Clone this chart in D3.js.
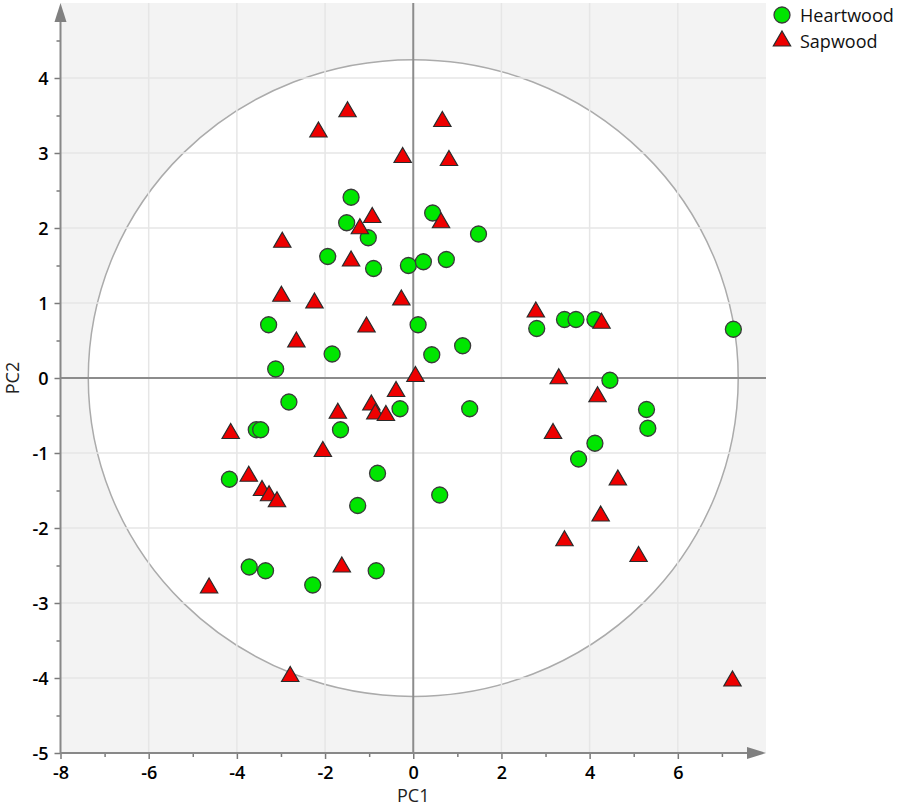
<!DOCTYPE html>
<html>
<head>
<meta charset="utf-8">
<script src="https://cdn.jsdelivr.net/npm/d3@7"></script>
<style>
  body { margin: 0; background: #fff; }
  svg { font-family: "Open Sans", "DejaVu Sans", sans-serif; }
</style>
</head>
<body>
<svg id="chart" width="898" height="808"></svg>
<script>
// PC scores
let heartwood = [
  [-1.41, 2.41], [-1.51, 2.07], [-1.02, 1.87], [0.44, 2.20], [1.48, 1.92],
  [-1.94, 1.62], [-0.90, 1.46], [-0.11, 1.50], [0.23, 1.55], [0.75, 1.58],
  [-3.28, 0.71], [0.11, 0.71], [-1.84, 0.32], [0.42, 0.31], [1.12, 0.43],
  [-3.12, 0.12], [-2.82, -0.32], [-0.30, -0.41], [1.28, -0.41], [-3.56, -0.69],
  [-3.46, -0.69], [-1.65, -0.69], [-0.81, -1.27], [-4.17, -1.35], [-1.26, -1.70],
  [0.60, -1.56], [-3.72, -2.52], [-3.35, -2.57], [-2.28, -2.76], [-0.84, -2.57],
  [2.80, 0.66], [3.43, 0.78], [3.69, 0.78], [4.12, 0.78], [7.26, 0.65],
  [4.46, -0.03], [5.29, -0.42], [5.32, -0.67], [4.12, -0.87], [3.75, -1.08]
]

let sapwood = [
  [-1.49, 3.55], [-2.15, 3.28], [0.66, 3.42], [-0.24, 2.94], [0.81, 2.90],
  [-0.93, 2.14], [-1.21, 1.99], [0.63, 2.07], [-2.97, 1.81], [-1.41, 1.56],
  [-2.99, 1.09], [-2.24, 1.00], [-0.27, 1.04], [-1.06, 0.68], [-2.65, 0.48],
  [0.05, 0.02], [-0.39, -0.18], [-0.95, -0.36], [-0.86, -0.48], [-0.62, -0.50],
  [-1.71, -0.47], [-4.14, -0.74], [-2.05, -0.98], [-3.73, -1.31], [-3.43, -1.50],
  [-3.27, -1.57], [-3.09, -1.65], [-1.62, -2.52], [-4.63, -2.80], [-2.79, -3.98],
  [2.78, 0.88], [4.27, 0.73], [3.30, -0.01], [4.18, -0.25], [3.17, -0.74],
  [4.64, -1.36], [4.25, -1.84], [3.43, -2.17], [5.11, -2.38], [7.24, -4.04]
]

let xTicks = [-8, -6, -4, -2, 0, 2, 4, 6]
let yTicks = [-5, -4, -3, -2, -1, 0, 1, 2, 3, 4]
let ellipseRadius = [7.37, 4.245]
let legendLabels = ["Heartwood", "Sapwood"]

let svg = d3.select('#chart')

let x = d3.scaleLinear().domain([-8, 8]).range([60.5, 766])
let y = d3.scaleLinear().domain([-5, 5]).range([753, 3])

let fmt = d => String(d)   // plain hyphen, not unicode minus

// grey plot background
svg.append('rect')
    .attr('x', x(-8)).attr('y', y(5))
    .attr('width', x(8) - x(-8)).attr('height', y(-5) - y(5))
    .attr('fill', '#f3f3f3')

// Hotelling ellipse
svg.append('ellipse')
    .attr('cx', x(0)).attr('cy', y(0))
    .attr('rx', x(ellipseRadius[0]) - x(0))
    .attr('ry', y(0) - y(ellipseRadius[1]))
    .attr('fill', '#fff')
    .attr('stroke', '#ababab')
    .attr('stroke-width', 1.5)

// grid
let grid = svg.append('g')
grid.selectAll('.gx')
    .data(xTicks.filter(d => d != 0 && d != -8))
    .join('line')
        .attr('x1', d => x(d)).attr('x2', d => x(d))
        .attr('y1', y(5)).attr('y2', y(-5))
grid.selectAll('.gy')
    .data(yTicks.filter(d => d != 0 && d != -5))
    .join('line')
        .attr('y1', d => y(d)).attr('y2', d => y(d))
        .attr('x1', x(-8)).attr('x2', x(8))
grid.selectAll('line')
    .attr('stroke', '#e6e6e6')
    .attr('stroke-width', 1.5)

// zero lines
svg.append('line')
    .attr('x1', x(-8)).attr('x2', x(8))
    .attr('y1', y(0)).attr('y2', y(0))
    .attr('stroke', '#8c8c8c').attr('stroke-width', 2)
svg.append('line')
    .attr('x1', x(0)).attr('x2', x(0))
    .attr('y1', y(5)).attr('y2', y(-5))
    .attr('stroke', '#8c8c8c').attr('stroke-width', 2)

// axes
let xAxis = svg.append('g')
    .attr('transform', `translate(0,${y(-5)})`)
    .call(d3.axisBottom(x).tickValues(xTicks).tickSize(6).tickPadding(4).tickFormat(fmt))
let xMinor = svg.append('g')
    .attr('transform', `translate(0,${y(-5)})`)
    .call(d3.axisBottom(x).tickValues([-7, -5, -3, -1, 1, 3, 5, 7]).tickSize(4).tickFormat(''))

let yAxis = svg.append('g')
    .attr('transform', `translate(${x(-8)},0)`)
    .call(d3.axisLeft(y).tickValues(yTicks).tickSize(6).tickPadding(6).tickFormat(fmt))
let yMinor = svg.append('g')
    .attr('transform', `translate(${x(-8)},0)`)
    .call(d3.axisLeft(y).tickValues([-4.5, -3.5, -2.5, -1.5, -0.5, 0.5, 1.5, 2.5, 3.5, 4.5]).tickSize(4).tickFormat(''))

svg.selectAll('.domain').remove()
svg.selectAll('.tick line').attr('stroke', '#7a7a7a').attr('stroke-width', 1.5)
svg.selectAll('.tick text')
    .attr('fill', '#000')
    .attr('font-size', 18)
    .attr('font-weight', 600)
    .attr('font-family', '"Open Sans", "DejaVu Sans", sans-serif')
xAxis.selectAll('.tick text').attr('dy', '0.9em')
yAxis.selectAll('.tick text').attr('dy', '0.35em')

// axis lines with arrow heads
svg.append('line')
    .attr('x1', x(-8)).attr('x2', x(8) - 12)
    .attr('y1', y(-5)).attr('y2', y(-5))
    .attr('stroke', '#888').attr('stroke-width', 2)
svg.append('line')
    .attr('x1', x(-8)).attr('x2', x(-8))
    .attr('y1', y(-5)).attr('y2', y(5) + 12)
    .attr('stroke', '#888').attr('stroke-width', 2)
svg.append('path')
    .attr('d', `M${x(8)},${y(-5)} L${x(8) - 19},${y(-5) - 6} L${x(8) - 19},${y(-5) + 6} Z`)
    .attr('fill', '#808080')
svg.append('path')
    .attr('d', `M${x(-8)},${y(5)} L${x(-8) - 6},${y(5) + 19} L${x(-8) + 6},${y(5) + 19} Z`)
    .attr('fill', '#808080')

// axis titles
svg.append('text')
    .attr('x', x(0)).attr('y', 802)
    .attr('text-anchor', 'middle')
    .attr('font-size', 18)
    .attr('fill', '#222')
    .text('PC1')
svg.append('text')
    .attr('transform', `translate(19,${y(0)}) rotate(-90)`)
    .attr('text-anchor', 'middle')
    .attr('font-size', 18)
    .attr('fill', '#222')
    .text('PC2')

// markers
let tri = d3.symbol().type(d3.symbolTriangle).size(130)

svg.append('g').selectAll('circle')
    .data(heartwood)
    .join('circle')
        .attr('cx', d => x(d[0]))
        .attr('cy', d => y(d[1]))
        .attr('r', 8)
        .attr('fill', '#00e600')
        .attr('stroke', '#3a3a3a')
        .attr('stroke-width', 1.3)

svg.append('g').selectAll('path')
    .data(sapwood)
    .join('path')
        .attr('d', tri)
        .attr('transform', d => `translate(${x(d[0])},${y(d[1])})`)
        .attr('fill', '#ee0000')
        .attr('stroke', '#2a2a2a')
        .attr('stroke-width', 1.2)

// legend
let legend = svg.append('g').attr('transform', 'translate(782,0)')
legend.append('circle')
    .attr('cx', 0).attr('cy', 15).attr('r', 8)
    .attr('fill', '#00e600').attr('stroke', '#3a3a3a').attr('stroke-width', 1.3)
legend.append('path')
    .attr('d', tri)
    .attr('transform', 'translate(0,41)')
    .attr('fill', '#ee0000').attr('stroke', '#2a2a2a').attr('stroke-width', 1.2)
legend.selectAll('text')
    .data(legendLabels)
    .join('text')
        .attr('x', 18)
        .attr('y', (d, i) => 16 + i * 26)
        .attr('dy', '0.35em')
        .attr('font-size', 18)
        .attr('fill', '#111')
        .text(d => d)
</script>
</body>
</html>
